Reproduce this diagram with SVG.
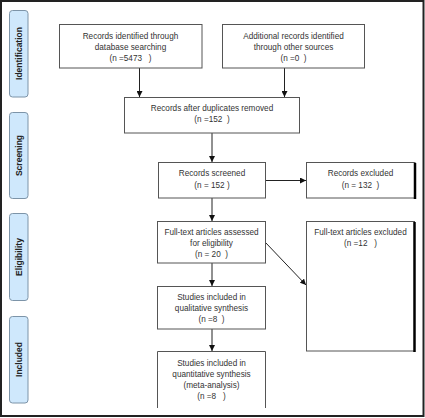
<svg xmlns="http://www.w3.org/2000/svg" width="425" height="418" viewBox="0 0 425 418">
<style>
.box{fill:#fff;stroke:#555;stroke-width:1}
.panel{fill:#cfe8fc;stroke:#7d94a8;stroke-width:1}
.t{font-family:"Liberation Sans",Arial,sans-serif;font-size:8.2px;fill:#333;text-anchor:middle;white-space:pre}
.pt{font-family:"Liberation Sans",Arial,sans-serif;font-size:8.5px;font-weight:bold;fill:#222;text-anchor:middle}
.c{stroke:#222;stroke-width:1;fill:none;marker-end:url(#ah)}
.shadow{stroke:#000;stroke-width:2.5}
</style>
<defs>
<marker id="ah" viewBox="0 0 10 10" refX="10" refY="5" markerWidth="6" markerHeight="6" markerUnits="userSpaceOnUse" orient="auto">
<path d="M0,0 L10,5 L0,10 z" fill="#111"/>
</marker>
</defs>
<rect x="0" y="0" width="425" height="418" fill="#fff"/>
<rect x="1" y="1" width="422.5" height="415" fill="none" stroke="#222" stroke-width="2"/>

<g id="panel-identification"><rect class="panel" x="9.5" y="10.5" width="18.5" height="86.5" rx="3"/><text class="pt" transform="translate(21.5,53.5) rotate(-90)">Identification</text></g>
<g id="panel-screening"><rect class="panel" x="9.5" y="112.5" width="18.5" height="86" rx="3"/><text class="pt" transform="translate(21.5,155.5) rotate(-90)">Screening</text></g>
<g id="panel-eligibility"><rect class="panel" x="9.5" y="213.5" width="18.5" height="87" rx="3"/><text class="pt" transform="translate(21.5,257) rotate(-90)">Eligibility</text></g>
<g id="panel-included"><rect class="panel" x="9.5" y="316.5" width="18.5" height="86.5" rx="3"/><text class="pt" transform="translate(21.5,359.5) rotate(-90)">Included</text></g>

<g id="connectors">
<line class="c" x1="139.5" y1="68" x2="139.5" y2="97"/>
<line class="c" x1="284.5" y1="68" x2="284.5" y2="97"/>
<line class="c" x1="212" y1="133" x2="212" y2="162"/>
<line class="c" x1="265" y1="180.5" x2="306" y2="180.5"/>
<line class="c" x1="212" y1="198" x2="212" y2="221"/>
<line class="c" x1="265.5" y1="242.5" x2="306" y2="285"/>
<line class="c" x1="212" y1="263" x2="212" y2="286"/>
<line class="c" x1="212" y1="329" x2="212" y2="351"/>
</g>

<g id="n1"><rect class="box" x="59.5" y="24.5" width="142.5" height="43.5"/>
<text class="t" x="130.5" y="39">Records identified through</text>
<text class="t" x="130.5" y="50">database searching</text>
<text class="t" x="130.5" y="61">(n =5473   )</text></g>

<g id="n2"><rect class="box" x="222.5" y="24.5" width="142" height="43.5"/>
<text class="t" x="293.5" y="39">Additional records identified</text>
<text class="t" x="293.5" y="50">through other sources</text>
<text class="t" x="293.5" y="61">(n =0  )</text></g>

<g id="n3"><rect class="box" x="124.5" y="97.5" width="175" height="35.5"/>
<text class="t" x="212" y="111">Records after duplicates removed</text>
<text class="t" x="212" y="122">(n =152  )</text></g>

<g id="n4"><rect class="box" x="158.5" y="162.5" width="107" height="35.5"/>
<text class="t" x="212" y="176">Records screened</text>
<text class="t" x="212" y="188">(n = 152 )</text></g>

<g id="n5"><rect class="box" x="306.5" y="162.5" width="108.5" height="35.5"/>
<line class="shadow" x1="415" y1="163" x2="415" y2="199"/>
<text class="t" x="360.5" y="176">Records excluded</text>
<text class="t" x="360.5" y="188">(n = 132  )</text></g>

<g id="n6"><rect class="box" x="157.5" y="221.5" width="108" height="41.5"/>
<text class="t" x="211.5" y="235">Full-text articles assessed</text>
<text class="t" x="211.5" y="246">for eligibility</text>
<text class="t" x="211.5" y="257">(n = 20  )</text></g>

<g id="n7"><rect class="box" x="306.5" y="221.5" width="108" height="129.5"/>
<line class="shadow" x1="414.5" y1="222" x2="414.5" y2="352"/>
<text class="t" x="360.5" y="235">Full-text articles excluded</text>
<text class="t" x="360.5" y="246">(n =12   )</text></g>

<g id="n8"><rect class="box" x="157.5" y="286.5" width="108" height="42.5"/>
<text class="t" x="211.5" y="300">Studies included in</text>
<text class="t" x="211.5" y="311">qualitative synthesis</text>
<text class="t" x="211.5" y="322">(n =8  )</text></g>

<g id="n9"><path class="box" d="M157.5,408 V351.5 H265.5 V408"/>
<text class="t" x="211.5" y="366">Studies included in</text>
<text class="t" x="211.5" y="377">quantitative synthesis</text>
<text class="t" x="211.5" y="388">(meta-analysis)</text>
<text class="t" x="211.5" y="399">(n =8   )</text></g>
</svg>
